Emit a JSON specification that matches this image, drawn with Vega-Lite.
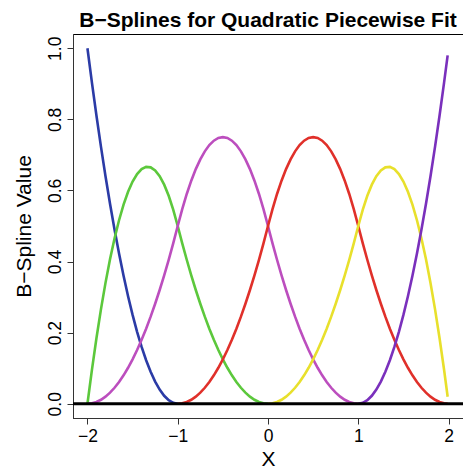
{
  "$schema": "https://vega.github.io/schema/vega-lite/v6.json",
  "autosize": {"type": "none"},
  "padding": {"left": 73, "top": 34, "right": 0, "bottom": 51},
  "width": 390,
  "height": 384,
  "config": {
    "font": "Liberation Sans",
    "view": {"stroke": "black", "strokeWidth": 1},
    "axis": {"grid": false, "domainColor": "#333", "tickColor": "#333", "labelColor": "black", "titleColor": "black", "labelFont": "Liberation Sans", "titleFont": "Liberation Sans", "titleFontWeight": "normal", "labelFontSize": 17.5, "titleFontSize": 21, "tickSize": 6}
  },
  "title": {"text": "B−Splines for Quadratic Piecewise Fit", "fontSize": 21, "fontWeight": "bold", "font": "Liberation Sans", "offset": 3, "color": "black"},
  "datasets": {
    "splines": [
      {"b":"1","x":-2,"y":1},{"b":"1","x":-1.95,"y":0.9025},{"b":"1","x":-1.9,"y":0.81},{"b":"1","x":-1.85,"y":0.7225},{"b":"1","x":-1.8,"y":0.64},{"b":"1","x":-1.75,"y":0.5625},{"b":"1","x":-1.7,"y":0.49},{"b":"1","x":-1.65,"y":0.4225},{"b":"1","x":-1.6,"y":0.36},{"b":"1","x":-1.55,"y":0.3025},{"b":"1","x":-1.5,"y":0.25},{"b":"1","x":-1.45,"y":0.2025},{"b":"1","x":-1.4,"y":0.16},{"b":"1","x":-1.35,"y":0.1225},{"b":"1","x":-1.3,"y":0.09},{"b":"1","x":-1.25,"y":0.0625},{"b":"1","x":-1.2,"y":0.04},{"b":"1","x":-1.15,"y":0.0225},{"b":"1","x":-1.1,"y":0.01},{"b":"1","x":-1.05,"y":0.0025},{"b":"1","x":-1,"y":0},

      {"b":"2","x":-2,"y":0},{"b":"2","x":-1.95,"y":0.09625},{"b":"2","x":-1.9,"y":0.185},{"b":"2","x":-1.85,"y":0.26625},{"b":"2","x":-1.8,"y":0.34},{"b":"2","x":-1.75,"y":0.40625},{"b":"2","x":-1.7,"y":0.465},{"b":"2","x":-1.65,"y":0.51625},{"b":"2","x":-1.6,"y":0.56},{"b":"2","x":-1.55,"y":0.59625},{"b":"2","x":-1.5,"y":0.625},{"b":"2","x":-1.45,"y":0.64625},{"b":"2","x":-1.4,"y":0.66},{"b":"2","x":-1.35,"y":0.66625},{"b":"2","x":-1.3,"y":0.665},{"b":"2","x":-1.25,"y":0.65625},{"b":"2","x":-1.2,"y":0.64},{"b":"2","x":-1.15,"y":0.61625},{"b":"2","x":-1.1,"y":0.585},{"b":"2","x":-1.05,"y":0.54625},{"b":"2","x":-1,"y":0.5},{"b":"2","x":-0.95,"y":0.45125},{"b":"2","x":-0.9,"y":0.405},{"b":"2","x":-0.85,"y":0.36125},{"b":"2","x":-0.8,"y":0.32},{"b":"2","x":-0.75,"y":0.28125},{"b":"2","x":-0.7,"y":0.245},{"b":"2","x":-0.65,"y":0.21125},{"b":"2","x":-0.6,"y":0.18},{"b":"2","x":-0.55,"y":0.15125},{"b":"2","x":-0.5,"y":0.125},{"b":"2","x":-0.45,"y":0.10125},{"b":"2","x":-0.4,"y":0.08},{"b":"2","x":-0.35,"y":0.06125},{"b":"2","x":-0.3,"y":0.045},{"b":"2","x":-0.25,"y":0.03125},{"b":"2","x":-0.2,"y":0.02},{"b":"2","x":-0.15,"y":0.01125},{"b":"2","x":-0.1,"y":0.005},{"b":"2","x":-0.05,"y":0.00125},{"b":"2","x":0,"y":0},

      {"b":"3","x":-2,"y":0},{"b":"3","x":-1.95,"y":0.00125},{"b":"3","x":-1.9,"y":0.005},{"b":"3","x":-1.85,"y":0.01125},{"b":"3","x":-1.8,"y":0.02},{"b":"3","x":-1.75,"y":0.03125},{"b":"3","x":-1.7,"y":0.045},{"b":"3","x":-1.65,"y":0.06125},{"b":"3","x":-1.6,"y":0.08},{"b":"3","x":-1.55,"y":0.10125},{"b":"3","x":-1.5,"y":0.125},{"b":"3","x":-1.45,"y":0.15125},{"b":"3","x":-1.4,"y":0.18},{"b":"3","x":-1.35,"y":0.21125},{"b":"3","x":-1.3,"y":0.245},{"b":"3","x":-1.25,"y":0.28125},{"b":"3","x":-1.2,"y":0.32},{"b":"3","x":-1.15,"y":0.36125},{"b":"3","x":-1.1,"y":0.405},{"b":"3","x":-1.05,"y":0.45125},{"b":"3","x":-1,"y":0.5},{"b":"3","x":-0.95,"y":0.5475},{"b":"3","x":-0.9,"y":0.59},{"b":"3","x":-0.85,"y":0.6275},{"b":"3","x":-0.8,"y":0.66},{"b":"3","x":-0.75,"y":0.6875},{"b":"3","x":-0.7,"y":0.71},{"b":"3","x":-0.65,"y":0.7275},{"b":"3","x":-0.6,"y":0.74},{"b":"3","x":-0.55,"y":0.7475},{"b":"3","x":-0.5,"y":0.75},{"b":"3","x":-0.45,"y":0.7475},{"b":"3","x":-0.4,"y":0.74},{"b":"3","x":-0.35,"y":0.7275},{"b":"3","x":-0.3,"y":0.71},{"b":"3","x":-0.25,"y":0.6875},{"b":"3","x":-0.2,"y":0.66},{"b":"3","x":-0.15,"y":0.6275},{"b":"3","x":-0.1,"y":0.59},{"b":"3","x":-0.05,"y":0.5475},{"b":"3","x":0,"y":0.5},{"b":"3","x":0.05,"y":0.45125},{"b":"3","x":0.1,"y":0.405},{"b":"3","x":0.15,"y":0.36125},{"b":"3","x":0.2,"y":0.32},{"b":"3","x":0.25,"y":0.28125},{"b":"3","x":0.3,"y":0.245},{"b":"3","x":0.35,"y":0.21125},{"b":"3","x":0.4,"y":0.18},{"b":"3","x":0.45,"y":0.15125},{"b":"3","x":0.5,"y":0.125},{"b":"3","x":0.55,"y":0.10125},{"b":"3","x":0.6,"y":0.08},{"b":"3","x":0.65,"y":0.06125},{"b":"3","x":0.7,"y":0.045},{"b":"3","x":0.75,"y":0.03125},{"b":"3","x":0.8,"y":0.02},{"b":"3","x":0.85,"y":0.01125},{"b":"3","x":0.9,"y":0.005},{"b":"3","x":0.95,"y":0.00125},{"b":"3","x":1,"y":0},

      {"b":"4","x":-1,"y":0},{"b":"4","x":-0.95,"y":0.00125},{"b":"4","x":-0.9,"y":0.005},{"b":"4","x":-0.85,"y":0.01125},{"b":"4","x":-0.8,"y":0.02},{"b":"4","x":-0.75,"y":0.03125},{"b":"4","x":-0.7,"y":0.045},{"b":"4","x":-0.65,"y":0.06125},{"b":"4","x":-0.6,"y":0.08},{"b":"4","x":-0.55,"y":0.10125},{"b":"4","x":-0.5,"y":0.125},{"b":"4","x":-0.45,"y":0.15125},{"b":"4","x":-0.4,"y":0.18},{"b":"4","x":-0.35,"y":0.21125},{"b":"4","x":-0.3,"y":0.245},{"b":"4","x":-0.25,"y":0.28125},{"b":"4","x":-0.2,"y":0.32},{"b":"4","x":-0.15,"y":0.36125},{"b":"4","x":-0.1,"y":0.405},{"b":"4","x":-0.05,"y":0.45125},{"b":"4","x":0,"y":0.5},{"b":"4","x":0.05,"y":0.5475},{"b":"4","x":0.1,"y":0.59},{"b":"4","x":0.15,"y":0.6275},{"b":"4","x":0.2,"y":0.66},{"b":"4","x":0.25,"y":0.6875},{"b":"4","x":0.3,"y":0.71},{"b":"4","x":0.35,"y":0.7275},{"b":"4","x":0.4,"y":0.74},{"b":"4","x":0.45,"y":0.7475},{"b":"4","x":0.5,"y":0.75},{"b":"4","x":0.55,"y":0.7475},{"b":"4","x":0.6,"y":0.74},{"b":"4","x":0.65,"y":0.7275},{"b":"4","x":0.7,"y":0.71},{"b":"4","x":0.75,"y":0.6875},{"b":"4","x":0.8,"y":0.66},{"b":"4","x":0.85,"y":0.6275},{"b":"4","x":0.9,"y":0.59},{"b":"4","x":0.95,"y":0.5475},{"b":"4","x":1,"y":0.5},{"b":"4","x":1.05,"y":0.45125},{"b":"4","x":1.1,"y":0.405},{"b":"4","x":1.15,"y":0.36125},{"b":"4","x":1.2,"y":0.32},{"b":"4","x":1.25,"y":0.28125},{"b":"4","x":1.3,"y":0.245},{"b":"4","x":1.35,"y":0.21125},{"b":"4","x":1.4,"y":0.18},{"b":"4","x":1.45,"y":0.15125},{"b":"4","x":1.5,"y":0.125},{"b":"4","x":1.55,"y":0.10125},{"b":"4","x":1.6,"y":0.08},{"b":"4","x":1.65,"y":0.06125},{"b":"4","x":1.7,"y":0.045},{"b":"4","x":1.75,"y":0.03125},{"b":"4","x":1.8,"y":0.02},{"b":"4","x":1.85,"y":0.01125},{"b":"4","x":1.9,"y":0.005},{"b":"4","x":1.95,"y":0.00125},{"b":"4","x":1.99,"y":0.00005},

      {"b":"5","x":0,"y":0},{"b":"5","x":0.05,"y":0.00125},{"b":"5","x":0.1,"y":0.005},{"b":"5","x":0.15,"y":0.01125},{"b":"5","x":0.2,"y":0.02},{"b":"5","x":0.25,"y":0.03125},{"b":"5","x":0.3,"y":0.045},{"b":"5","x":0.35,"y":0.06125},{"b":"5","x":0.4,"y":0.08},{"b":"5","x":0.45,"y":0.10125},{"b":"5","x":0.5,"y":0.125},{"b":"5","x":0.55,"y":0.15125},{"b":"5","x":0.6,"y":0.18},{"b":"5","x":0.65,"y":0.21125},{"b":"5","x":0.7,"y":0.245},{"b":"5","x":0.75,"y":0.28125},{"b":"5","x":0.8,"y":0.32},{"b":"5","x":0.85,"y":0.36125},{"b":"5","x":0.9,"y":0.405},{"b":"5","x":0.95,"y":0.45125},{"b":"5","x":1,"y":0.5},{"b":"5","x":1.05,"y":0.54625},{"b":"5","x":1.1,"y":0.585},{"b":"5","x":1.15,"y":0.61625},{"b":"5","x":1.2,"y":0.64},{"b":"5","x":1.25,"y":0.65625},{"b":"5","x":1.3,"y":0.665},{"b":"5","x":1.35,"y":0.66625},{"b":"5","x":1.4,"y":0.66},{"b":"5","x":1.45,"y":0.64625},{"b":"5","x":1.5,"y":0.625},{"b":"5","x":1.55,"y":0.59625},{"b":"5","x":1.6,"y":0.56},{"b":"5","x":1.65,"y":0.51625},{"b":"5","x":1.7,"y":0.465},{"b":"5","x":1.75,"y":0.40625},{"b":"5","x":1.8,"y":0.34},{"b":"5","x":1.85,"y":0.26625},{"b":"5","x":1.9,"y":0.185},{"b":"5","x":1.95,"y":0.09625},{"b":"5","x":1.99,"y":0.01985},

      {"b":"6","x":1,"y":0},{"b":"6","x":1.05,"y":0.0025},{"b":"6","x":1.1,"y":0.01},{"b":"6","x":1.15,"y":0.0225},{"b":"6","x":1.2,"y":0.04},{"b":"6","x":1.25,"y":0.0625},{"b":"6","x":1.3,"y":0.09},{"b":"6","x":1.35,"y":0.1225},{"b":"6","x":1.4,"y":0.16},{"b":"6","x":1.45,"y":0.2025},{"b":"6","x":1.5,"y":0.25},{"b":"6","x":1.55,"y":0.3025},{"b":"6","x":1.6,"y":0.36},{"b":"6","x":1.65,"y":0.4225},{"b":"6","x":1.7,"y":0.49},{"b":"6","x":1.75,"y":0.5625},{"b":"6","x":1.8,"y":0.64},{"b":"6","x":1.85,"y":0.7225},{"b":"6","x":1.9,"y":0.81},{"b":"6","x":1.95,"y":0.9025},{"b":"6","x":1.99,"y":0.9801}
    ]
  },
  "layer": [
    {
      "data": {"name": "splines"},
      "mark": {"type": "line", "strokeWidth": 2.6, "clip": true},
      "encoding": {
        "x": {"field": "x", "type": "quantitative", "scale": {"domain": [-2.16, 2.16], "nice": false, "zero": false}, "axis": {"values": [-2, -1, 0, 1, 2], "format": "d", "title": "X", "labelPadding": 3, "titlePadding": 3.5}},
        "y": {"field": "y", "type": "quantitative", "scale": {"domain": [-0.04, 1.04], "nice": false, "zero": false}, "axis": {"values": [0, 0.2, 0.4, 0.6, 0.8, 1], "format": ".1f", "title": "B−Spline Value", "labelAngle": 270, "labelAlign": "center", "labelBaseline": "bottom", "labelPadding": 3, "titlePadding": 12}},
        "color": {"field": "b", "type": "nominal", "scale": {"domain": ["1", "2", "3", "4", "5", "6"], "range": ["#2B3BA6", "#5CC83C", "#BC4EBE", "#E0302A", "#E8E02C", "#7A30BC"]}, "legend": null}
      }
    },
    {
      "data": {"values": [{"z": 0}]},
      "mark": {"type": "rule", "color": "black", "strokeWidth": 3},
      "encoding": {"y": {"field": "z", "type": "quantitative"}}
    }
  ]
}
